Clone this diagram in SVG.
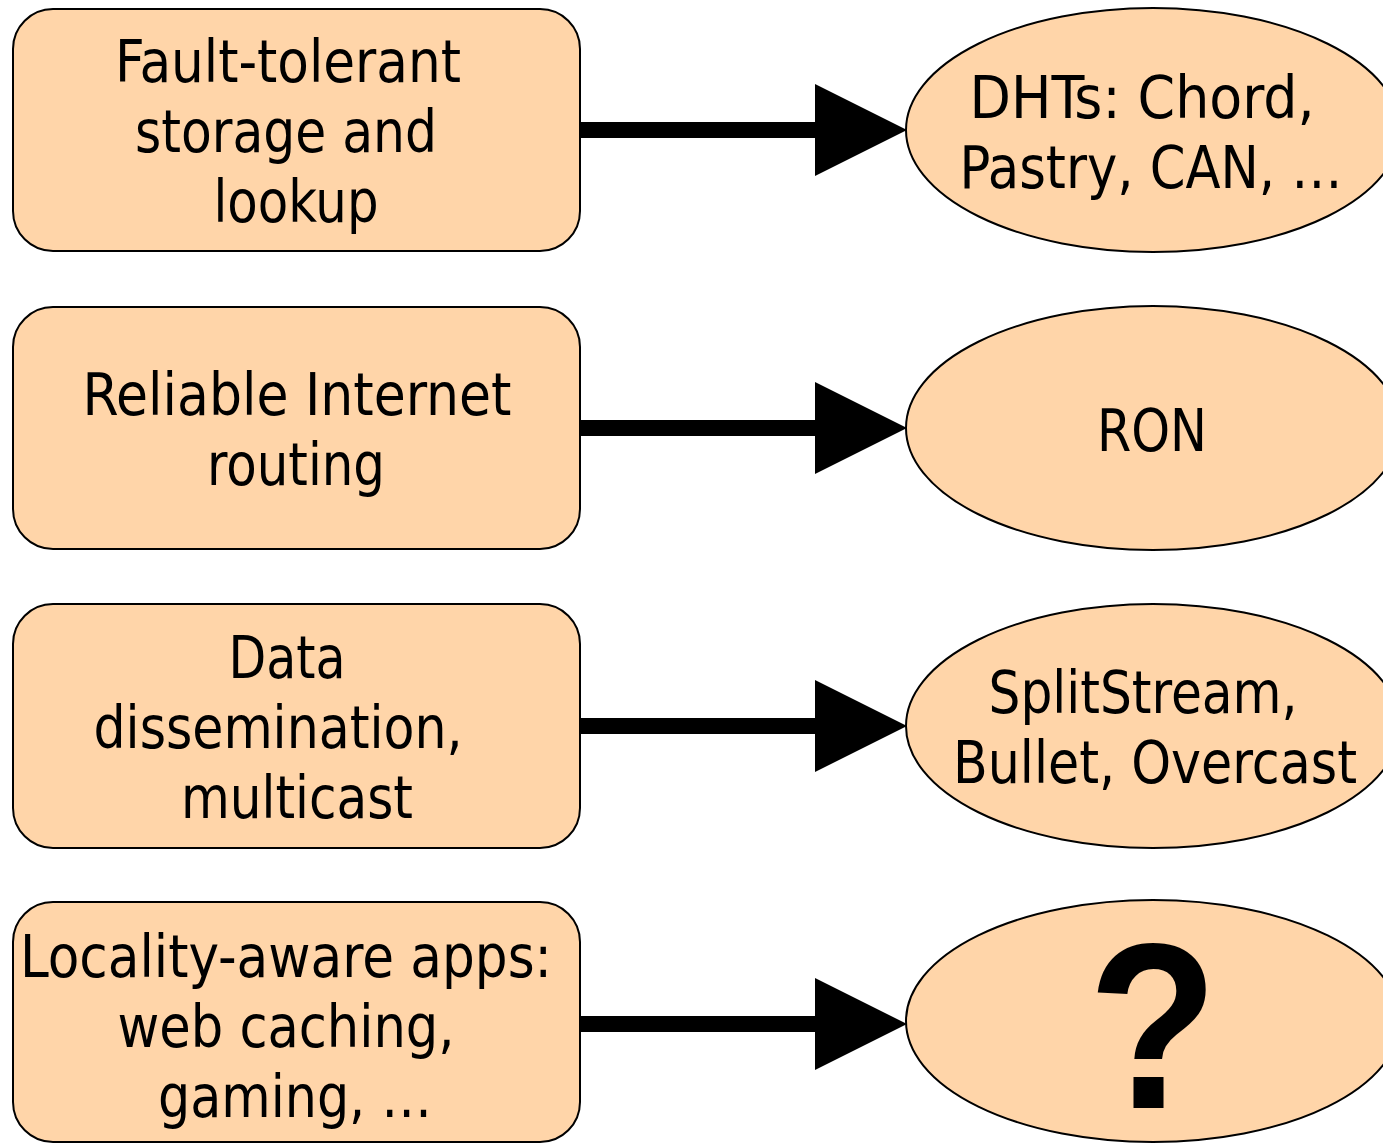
<svg xmlns="http://www.w3.org/2000/svg" width="1383" height="1143" viewBox="0 0 1383 1143">
  <defs>
    <style>
      .box { fill: #FFD5A9; stroke: #000; stroke-width: 2; }
      .lbl { font-family: 'DejaVu Sans Condensed', 'DejaVu Sans', sans-serif; font-stretch: condensed; font-size: 58px; fill: #000; text-anchor: middle; }
      .q { font-family: 'Liberation Sans', Arial, sans-serif; font-weight: bold; font-size: 236px; fill: #000; text-anchor: middle; }
      .shaft { stroke: #000; stroke-width: 16; fill: none; }
      .head { fill: #000; }
    </style>
  </defs>
  <rect width="1383" height="1143" fill="#fff"/>

  <!-- problem boxes -->
  <g id="fault-tolerant">
    <rect class="box" x="13" y="9" width="567" height="242" rx="40" ry="40"/>
    <text class="lbl" x="288" y="82" textLength="346" lengthAdjust="spacingAndGlyphs">Fault-tolerant</text>
    <text class="lbl" x="286" y="152" textLength="302" lengthAdjust="spacingAndGlyphs">storage and</text>
    <text class="lbl" x="296" y="222" textLength="165" lengthAdjust="spacingAndGlyphs">lookup</text>
  </g>
  <g id="reliable-routing">
    <rect class="box" x="13" y="307" width="567" height="242" rx="40" ry="40"/>
    <text class="lbl" x="297" y="415" textLength="429" lengthAdjust="spacingAndGlyphs">Reliable Internet</text>
    <text class="lbl" x="296" y="485" textLength="178" lengthAdjust="spacingAndGlyphs">routing</text>
  </g>
  <g id="dissemination">
    <rect class="box" x="13" y="604" width="567" height="244" rx="40" ry="40"/>
    <text class="lbl" x="287" y="678" textLength="117" lengthAdjust="spacingAndGlyphs">Data</text>
    <text class="lbl" x="278" y="748" textLength="369" lengthAdjust="spacingAndGlyphs">dissemination,</text>
    <text class="lbl" x="297" y="818" textLength="232" lengthAdjust="spacingAndGlyphs">multicast</text>
  </g>
  <g id="locality-aware">
    <rect class="box" x="13" y="902" width="567" height="240" rx="40" ry="40"/>
    <text class="lbl" x="286" y="977" textLength="532" lengthAdjust="spacingAndGlyphs">Locality-aware apps:</text>
    <text class="lbl" x="286" y="1047" textLength="337" lengthAdjust="spacingAndGlyphs">web caching,</text>
    <text class="lbl" x="295" y="1117" textLength="274" lengthAdjust="spacingAndGlyphs">gaming, …</text>
  </g>

  <!-- systems -->
  <g id="dhts">
    <ellipse class="box" cx="1153" cy="130" rx="247" ry="122"/>
    <text class="lbl" x="1142" y="118" textLength="345" lengthAdjust="spacingAndGlyphs">DHTs: Chord,</text>
    <text class="lbl" x="1151" y="188" textLength="383" lengthAdjust="spacingAndGlyphs">Pastry, CAN, …</text>
  </g>
  <g id="ron">
    <ellipse class="box" cx="1153" cy="428" rx="247" ry="122"/>
    <text class="lbl" x="1152" y="451" textLength="110" lengthAdjust="spacingAndGlyphs">RON</text>
  </g>
  <g id="splitstream">
    <ellipse class="box" cx="1153" cy="726" rx="247" ry="122"/>
    <text class="lbl" x="1143" y="713" textLength="309" lengthAdjust="spacingAndGlyphs">SplitStream,</text>
    <text class="lbl" x="1155" y="783" textLength="404" lengthAdjust="spacingAndGlyphs">Bullet, Overcast</text>
  </g>
  <g id="unknown">
    <ellipse class="box" cx="1153" cy="1021" rx="247" ry="121"/>
    <text class="q" x="1153" y="1108" textLength="130" lengthAdjust="spacingAndGlyphs">?</text>
  </g>

  <!-- connectors -->
  <g id="connectors">
    <line class="shaft" x1="580" y1="130" x2="816" y2="130"/>
    <polygon class="head" points="815,84 907,130 815,176"/>
    <line class="shaft" x1="580" y1="428" x2="816" y2="428"/>
    <polygon class="head" points="815,382 907,428 815,474"/>
    <line class="shaft" x1="580" y1="726" x2="816" y2="726"/>
    <polygon class="head" points="815,680 907,726 815,772"/>
    <line class="shaft" x1="580" y1="1024" x2="816" y2="1024"/>
    <polygon class="head" points="815,978 907,1024 815,1070"/>
  </g>
</svg>
